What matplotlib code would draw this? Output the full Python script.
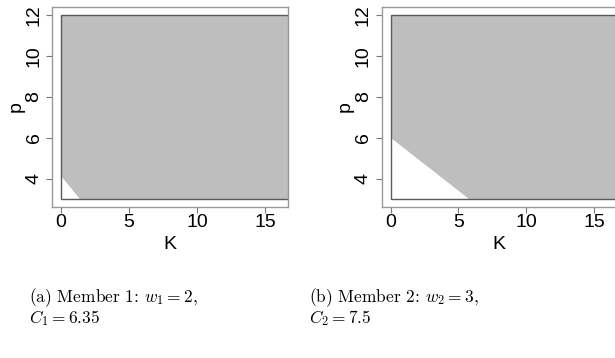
import matplotlib
matplotlib.use("Agg")
import matplotlib.pyplot as plt
from matplotlib.patches import Polygon, Rectangle

plt.rcParams['font.family'] = ['Liberation Sans', 'DejaVu Sans']
plt.rcParams['mathtext.fontset'] = 'cm'

# Data
K_max = 20.0
p_min, p_max = 3.0, 12.0
# white (infeasible) triangle corners: p-intercept at K=0, K-intercept at p=3
p_intercepts = [4.15, 6.0]
K_intercepts = [1.43, 5.75]
captions_line1 = ["(a) Member 1: $w_1 = 2$,", "(b) Member 2: $w_2 = 3$,"]
captions_line2 = ["$C_1 = 6.35$", "$C_2 = 7.5$"]
x_ticks = [0, 5, 10, 15]
y_ticks = [4, 6, 8, 10, 12]

W, H = 615, 358
fig = plt.figure(figsize=(W / 100, H / 100), dpi=100)

panels = [
    dict(left=52.3, right=287.5, xlim=(-0.64, 16.65), cap_x=29),
    dict(left=381.7, right=616.5, xlim=(-0.65, 16.66), cap_x=309),
]
top, bottom = 7.3, 206.7

for i, pn in enumerate(panels):
    ax = fig.add_axes([pn['left'] / W, 1 - bottom / H,
                       (pn['right'] - pn['left']) / W, (bottom - top) / H])
    ax.set_xlim(*pn['xlim'])
    ax.set_ylim(2.64, 12.375)
    verts = [(0, p_intercepts[i]), (0, p_max), (K_max, p_max),
             (K_max, p_min), (K_intercepts[i], p_min)]
    ax.add_patch(Polygon(verts, closed=True, facecolor='#bebebe',
                         edgecolor='none', zorder=1))
    ax.add_patch(Rectangle((0, p_min), K_max, p_max - p_min, facecolor='none',
                           edgecolor='#5a5a5a', linewidth=1.0, zorder=2))
    for s in ax.spines.values():
        s.set_color('#999999')
        s.set_linewidth(1.0)
    ax.set_xticks(x_ticks)
    ax.set_yticks(y_ticks)
    ax.tick_params(axis='both', direction='out', length=4, width=0.8,
                   color='#777777', labelsize=14)
    ax.tick_params(axis='x', pad=1.5)
    ax.tick_params(axis='y', pad=3)
    for lab in ax.get_yticklabels():
        lab.set_rotation(90)
        lab.set_va('center')
    ax.set_xlabel('K', fontsize=14, labelpad=3)
    ax.set_ylabel('p', fontsize=14, labelpad=1)

    fig.text(pn['cap_x'] / W, 1 - 286.5 / H,
             captions_line1[i] + "\n" + captions_line2[i],
             fontfamily='cmr10', fontsize=12.5, va='top', ha='left',
             linespacing=0.95)

fig.savefig('out.png', dpi=100)
